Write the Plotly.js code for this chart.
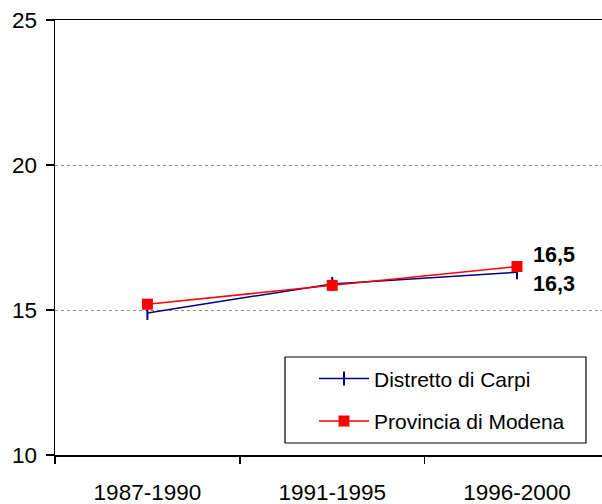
<!DOCTYPE html>
<html>
<head>
<meta charset="utf-8">
<script src="https://cdn.plot.ly/plotly-3.0.1.min.js"></script>
<style>html,body{margin:0;padding:0;background:#fff;}#chart{width:602px;height:504px;}</style>
</head>
<body>
<div id="chart"></div>
<script>
const categories = ["1987-1990", "1991-1995", "1996-2000"];
const carpiName = "Distretto di Carpi";
const modenaName = "Provincia di Modena";
const carpiValues = [14.9, 15.9, 16.3];
const modenaValues = [15.2, 15.85, 16.5];
const yTickValues = [10, 15, 20, 25];
const yTickLabels = ["10", "15", "20", "25"];
const labelFont = "Liberation Sans, Arial, sans-serif";

const traces = [
  {
    x: categories, y: carpiValues, name: carpiName, type: "scatter", mode: "lines+markers",
    legendgroup: "a",
    line: {color: "#000080", width: 1.5},
    marker: {symbol: "line-ns-open", size: 10, line: {color: "#000080", width: 2}, color: "#000080"}
  },
  {
    x: categories, y: modenaValues, name: modenaName, type: "scatter", mode: "lines+markers",
    legendgroup: "b",
    line: {color: "#FF0000", width: 1.5},
    marker: {symbol: "square", size: 11, color: "#FF0000"}
  }
];

const last = categories.length - 1;
const annotations = [
  {x: categories[last], y: modenaValues[last], xref: "x", yref: "y", text: "<b>" + String(modenaValues[last]).replace(".", ",") + "</b>",
   showarrow: false, xanchor: "left", yanchor: "middle", xshift: 14, yshift: 12, font: {family: labelFont, size: 21.5, color: "#000"}},
  {x: categories[last], y: carpiValues[last], xref: "x", yref: "y", text: "<b>" + String(carpiValues[last]).replace(".", ",") + "</b>",
   showarrow: false, xanchor: "left", yanchor: "middle", xshift: 14, yshift: -12, font: {family: labelFont, size: 21.5, color: "#000"}}
];

const layout = {
  width: 602, height: 504,
  margin: {l: 55, r: 0, t: 20, b: 49},
  paper_bgcolor: "#fff", plot_bgcolor: "#fff",
  font: {family: labelFont, color: "#000", size: 22},
  showlegend: true,
  legend: {
    x: 0.4735, y: 0.222, xanchor: "left", yanchor: "top",
    bgcolor: "rgba(0,0,0,0)", borderwidth: 0,
    itemwidth: 50, tracegroupgap: 12,
    font: {family: labelFont, size: 21, color: "#000"}
  },
  xaxis: {
    type: "category", range: [-0.5, 2.46],
    showline: true, linecolor: "#000", linewidth: 1.5, mirror: true,
    ticks: "outside", tickson: "boundaries", ticklen: 7, tickcolor: "#000", tickwidth: 1.5,
    ticklabelstandoff: 16,
    showgrid: false, zeroline: false,
    tickfont: {family: labelFont, size: 22.5, color: "#000"}
  },
  yaxis: {
    range: [10, 25], tickvals: yTickValues, ticktext: yTickLabels,
    showline: true, linecolor: "#000", linewidth: 1.5,
    ticks: "outside", ticklen: 8, tickcolor: "#000", tickwidth: 1.5,
    ticklabelstandoff: 4,
    showgrid: true, gridcolor: "#8c8c8c", griddash: "dot", gridwidth: 1,
    zeroline: false,
    tickfont: {family: labelFont, size: 22.5, color: "#000"}
  },
  shapes: [
    {type: "rect", xref: "paper", yref: "paper", x0: 0.4205, x1: 0.9707, y0: 0.0276, y1: 0.2253,
     line: {color: "#000", width: 1.2}, fillcolor: "rgba(0,0,0,0)", layer: "below"}
  ],
  annotations: annotations
};

Plotly.newPlot("chart", traces, layout, {displayModeBar: false, staticPlot: true});
</script>
</body>
</html>
